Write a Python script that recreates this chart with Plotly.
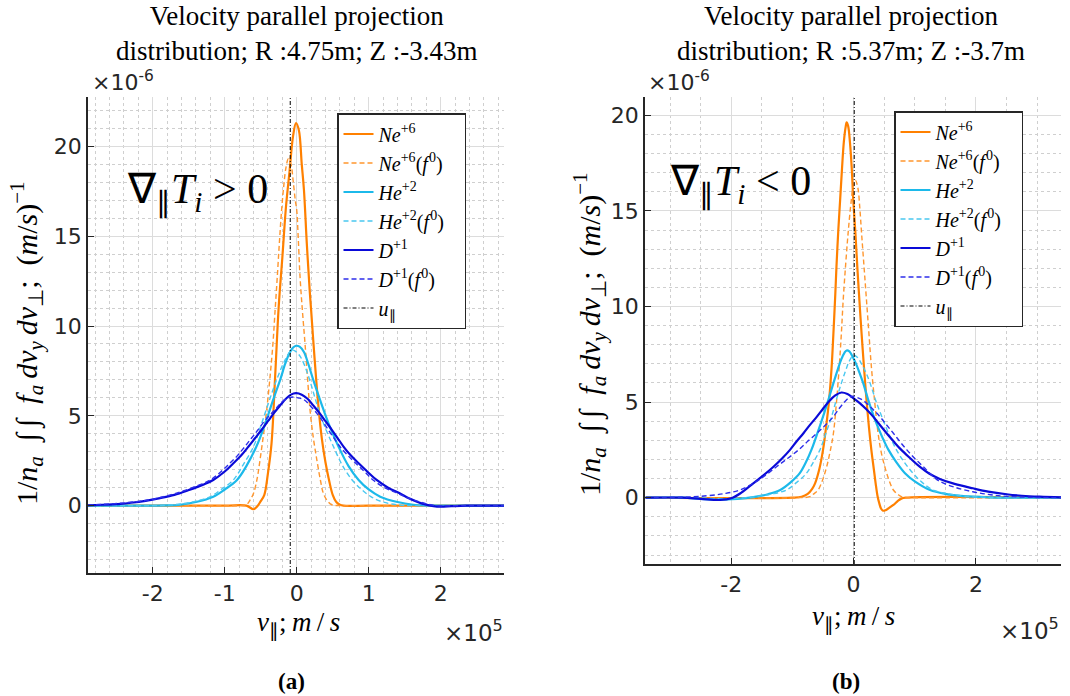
import numpy as np
import plotly.graph_objects as go

# ---------------- Panel (a) data  (x in 1e5 m/s, y in 1e-6) ----------------
NE_A_X = [-2.9, -1.0, -0.7, -0.60, -0.55, -0.50, -0.45, -0.40, -0.35, -0.30, -0.25, -0.20, -0.15, -0.10,
          -0.05, -0.01, 0.03, 0.07, 0.10, 0.14, 0.18, 0.20, 0.25, 0.30, 0.35, 0.40, 0.45, 0.50, 0.55,
          0.60, 0.65, 1.0, 2.9]
NE_A_Y = [0, 0, 0, -0.2, -0.05, 0.25, 0.6, 1.8, 3.47, 7.18, 11.1, 13.8, 16.6, 18.6,
          20.6, 21.3, 20.9, 19.0, 17.6, 14.6, 12.0, 10.9, 8.1, 5.6, 3.7, 2.4, 1.4, 0.6, 0.2,
          0.05, 0, 0, 0]
NE0_A_X = [-2.9, -1.0, -0.80, -0.70, -0.65, -0.60, -0.55, -0.51, -0.45, -0.417, -0.37, -0.33, -0.30,
           -0.27, -0.24, -0.21, -0.18, -0.15, -0.117, -0.08, -0.05, -0.02, 0.0, 0.02, 0.046, 0.08,
           0.115, 0.15, 0.185, 0.23, 0.28, 0.33, 0.37, 0.43, 0.49, 0.6, 1.0, 2.9]
NE0_A_Y = [0, 0, 0, 0.05, 0.3, 0.69, 1.5, 2.54, 4.3, 5.33, 7.2, 9.04, 10.9,
           12.75, 14.7, 16.46, 17.8, 18.8, 19.3, 19.0, 18.1, 17.0, 16.46, 15.0, 12.75, 10.8,
           9.04, 7.1, 5.33, 3.8, 2.54, 1.4, 0.69, 0.25, 0.05, 0, 0, 0]
HE_A_X = [-2.9, -2.0, -1.8, -1.62, -1.4, -1.16, -1.0, -0.83, -0.7, -0.56, -0.47, -0.39, -0.31, -0.23,
          -0.16, -0.1, -0.05, -0.01, 0.04, 0.1, 0.16, 0.23, 0.31, 0.39, 0.48, 0.58, 0.72, 0.86, 1.0,
          1.16, 1.4, 1.62, 1.8, 2.0, 2.9]
HE_A_Y = [0, 0, 0.01, 0.05, 0.2, 0.5, 0.9, 1.43, 2.2, 3.29, 4.2, 5.14, 6.1, 7.0,
          7.9, 8.5, 8.8, 8.9, 8.85, 8.55, 7.9, 7.0, 6.05, 5.14, 4.2, 3.29, 2.2, 1.43, 0.9,
          0.5, 0.2, 0.05, 0.01, 0, 0]
HE0_A_X = [-2.9, -2.0, -1.8, -1.6, -1.4, -1.2, -1.05, -0.88, -0.74, -0.6, -0.52, -0.44, -0.36, -0.28,
           -0.21, -0.15, -0.1, -0.07, -0.02, 0.05, 0.11, 0.18, 0.25, 0.32, 0.41, 0.51, 0.64, 0.77,
           0.9, 1.03, 1.2, 1.44, 1.7, 2.0, 2.9]
HE0_A_Y = [0, 0, 0.03, 0.1, 0.25, 0.5, 0.9, 1.43, 2.3, 3.29, 4.2, 5.14, 6.1, 7.0,
           7.7, 8.2, 8.55, 8.67, 8.6, 8.3, 7.8, 7.0, 6.05, 5.14, 4.2, 3.29, 2.2, 1.43,
           0.9, 0.5, 0.2, 0.03, 0, 0, 0]
D_A_X = [-2.9, -2.7, -2.5, -2.3, -2.1, -1.9, -1.7, -1.5, -1.3, -1.16, -1.0, -0.88, -0.77, -0.67,
         -0.58, -0.49, -0.4, -0.32, -0.23, -0.15, -0.08, -0.01, 0.07, 0.15, 0.23, 0.32, 0.4, 0.49,
         0.57, 0.65, 0.75, 0.86, 0.98, 1.11, 1.27, 1.43, 1.55, 1.67, 1.78, 1.9, 2.0, 2.15, 2.35, 2.9]
D_A_Y = [0.02, 0.05, 0.08, 0.16, 0.27, 0.42, 0.6, 0.87, 1.17, 1.43, 1.9, 2.36, 2.8, 3.29,
         3.75, 4.21, 4.7, 5.14, 5.58, 5.95, 6.18, 6.26, 6.18, 5.95, 5.58, 5.14, 4.7, 4.21,
         3.75, 3.29, 2.8, 2.36, 1.9, 1.43, 1.0, 0.69, 0.42, 0.22, 0.07, -0.03, -0.06, -0.03, 0, 0]
D0_A_X = [-2.9, -2.7, -2.5, -2.23, -2.0, -1.8, -1.67, -1.45, -1.2, -1.05, -0.93, -0.82, -0.72, -0.63,
          -0.54, -0.45, -0.35, -0.27, -0.2, -0.12, -0.05, 0.02, 0.1, 0.19, 0.28, 0.36, 0.44, 0.52,
          0.60, 0.71, 0.82, 0.94, 1.06, 1.22, 1.40, 1.55, 1.70, 1.82, 1.95, 2.3, 2.9]
D0_A_Y = [0.03, 0.07, 0.12, 0.22, 0.35, 0.55, 0.69, 1.0, 1.43, 1.9, 2.36, 2.8, 3.29, 3.75,
          4.21, 4.7, 5.14, 5.5, 5.8, 5.98, 6.05, 6.0, 5.9, 5.55, 5.14, 4.7, 4.21, 3.75,
          3.29, 2.8, 2.36, 1.9, 1.43, 1.0, 0.69, 0.42, 0.22, 0.08, 0, 0, 0]
U_A = -0.09

# ---------------- Panel (b) data ----------------
NE_B_X = [-3.4, -1.0, -0.85, -0.75, -0.68, -0.63, -0.56, -0.50, -0.45, -0.40, -0.36, -0.33, -0.30,
          -0.28, -0.25, -0.22, -0.19, -0.16, -0.13, -0.114, -0.09, -0.06, -0.03, -0.006, 0.03, 0.06,
          0.095, 0.13, 0.17, 0.21, 0.25, 0.29, 0.33, 0.36, 0.39, 0.42, 0.45, 0.48, 0.52, 0.56, 0.65,
          0.72, 0.78, 0.85, 3.4]
NE_B_Y = [0, 0, 0.05, 0.2, 0.45, 0.75, 1.5, 2.5, 3.7, 5.12, 6.8, 8.6, 10.6,
          12.1, 14.0, 15.59, 17.2, 18.6, 19.4, 19.63, 19.45, 18.6, 17.2, 15.59, 13.8, 12.1,
          10.3, 8.6, 6.8, 5.12, 3.7, 2.5, 1.5, 0.75, 0.1, -0.3, -0.58, -0.68, -0.66, -0.58, -0.38,
          -0.18, -0.05, 0, 0]
NE0_B_X = [-3.4, -0.9, -0.72, -0.65, -0.58, -0.51, -0.44, -0.385, -0.33, -0.28, -0.235, -0.2, -0.17,
           -0.13, -0.09, -0.05, -0.01, 0.03, 0.07, 0.10, 0.13, 0.17, 0.21, 0.25, 0.29, 0.345, 0.40,
           0.45, 0.51, 0.58, 0.65, 0.73, 0.81, 1.0, 3.4]
NE0_B_Y = [0, 0, 0.05, 0.2, 0.4, 0.9, 1.62, 2.4, 3.37, 5.0, 6.86, 8.6, 10.35,
           12.2, 13.84, 15.2, 16.2, 16.6, 16.2, 15.2, 13.84, 12.1, 10.35, 8.6, 6.86, 5.0, 3.37,
           2.4, 1.62, 0.9, 0.4, 0.15, 0.02, 0, 0]
HE_B_X = [-3.4, -2.8, -2.5, -2.2, -1.9, -1.64, -1.4, -1.2, -1.03, -0.88, -0.78, -0.69, -0.6, -0.50,
          -0.41, -0.33, -0.26, -0.2, -0.15, -0.114, -0.07, -0.02, 0.04, 0.1, 0.157, 0.24, 0.33, 0.45,
          0.57, 0.7, 0.84, 1.0, 1.25, 1.5, 1.8, 2.2, 2.6, 3.4]
HE_B_Y = [0, 0, -0.06, -0.1, -0.06, 0.03, 0.18, 0.4, 0.8, 1.28, 1.85, 2.5, 3.3, 4.24,
          5.15, 5.99, 6.7, 7.25, 7.58, 7.70, 7.65, 7.4, 7.0, 6.5, 5.99, 5.1, 4.24, 3.3,
          2.5, 1.85, 1.28, 0.85, 0.4, 0.2, 0.08, 0.02, 0, 0]
HE0_B_X = [-3.4, -2.6, -2.2, -1.9, -1.6, -1.35, -1.1, -0.93, -0.77, -0.66, -0.55, -0.46, -0.36, -0.28,
           -0.2, -0.13, -0.07, 0.0, 0.06, 0.13, 0.2, 0.27, 0.36, 0.46, 0.58, 0.70, 0.83, 0.97, 1.12,
           1.3, 1.55, 1.8, 2.2, 2.6, 3.4]
HE0_B_Y = [0, 0, -0.06, -0.03, 0.05, 0.18, 0.4, 0.8, 1.28, 1.85, 2.5, 3.3, 4.24, 5.15,
           5.99, 6.65, 7.15, 7.45, 7.35, 7.0, 6.55, 5.99, 5.1, 4.24, 3.3, 2.5, 1.85, 1.28, 0.8,
           0.4, 0.2, 0.08, 0.02, 0, 0]
D_B_X = [-3.4, -2.8, -2.5, -2.18, -2.0, -1.84, -1.64, -1.47, -1.31, -1.17, -1.04, -0.93, -0.82, -0.71,
         -0.6, -0.5, -0.4, -0.3, -0.2, -0.1, 0.0, 0.1, 0.2, 0.32, 0.43, 0.54, 0.66, 0.78, 0.93, 1.08,
         1.24, 1.41, 1.65, 1.95, 2.2, 2.5, 2.75, 3.04, 3.4]
D_B_Y = [0, 0, -0.06, -0.12, -0.03, 0.25, 0.75, 1.18, 1.62, 2.05, 2.5, 2.95, 3.37, 3.82,
         4.24, 4.65, 5.05, 5.35, 5.5, 5.42, 5.2, 4.95, 4.65, 4.24, 3.8, 3.37, 2.92, 2.5, 2.05, 1.62,
         1.25, 0.98, 0.72, 0.49, 0.32, 0.18, 0.1, 0.05, 0.02]
D0_B_X = [-3.4, -2.8, -2.4, -2.1, -1.86, -1.64, -1.45, -1.26, -1.08, -0.9, -0.75, -0.6, -0.46, -0.33,
          -0.24, -0.15, -0.08, -0.03, 0.05, 0.15, 0.29, 0.43, 0.54, 0.65, 0.76, 0.87, 1.0, 1.14, 1.27,
          1.41, 1.65, 1.95, 2.2, 2.5, 3.0, 3.4]
D0_B_Y = [0, 0.02, 0.1, 0.22, 0.4, 0.75, 1.15, 1.62, 2.05, 2.5, 2.95, 3.37, 3.8, 4.24,
          4.65, 5.0, 5.22, 5.3, 5.25, 5.1, 4.7, 4.24, 3.8, 3.37, 2.92, 2.5, 2.05, 1.62, 1.2,
          0.85, 0.55, 0.31, 0.17, 0.07, 0.01, 0]
U_B = 0.01

RANGE_A_X = [-2.9, 2.88]
RANGE_A_Y = [-3.75, 22.75]
RANGE_B_X = [-3.41, 3.39]
RANGE_B_Y = [-3.47, 20.96]

F0 = "(<i>f</i><sup>\u200a0</sup>)\u2002\u2009"
NAMES = ["<i>Ne</i><sup>+6</sup>", "<i>Ne</i><sup>+6</sup>" + F0,
         "<i>He</i><sup>+2</sup>", "<i>He</i><sup>+2</sup>" + F0,
         "<i>D</i><sup>+1</sup>", "<i>D</i><sup>+1</sup>" + F0,
         "<i>u</i><sub>∥</sub>"]

C_NE, C_NE0 = "#FF8000", "#FF962E"
C_HE, C_HE0 = "#1CB9EA", "#4AC8F0"
C_D, C_D0 = "#0A0AD8", "#2E2EEA"

W, H = 1070, 696
SERIF = "Liberation Serif"
SANS = "DejaVu Sans"

fig = go.Figure()


def add(xs, ys, name, color, dash, width, xa, ya, leg):
    fig.add_trace(go.Scatter(
        x=xs, y=ys, name=name, mode="lines",
        line=dict(color=color, dash=dash, width=width, shape="spline", smoothing=1.0),
        xaxis=xa, yaxis=ya, legend=leg, hoverinfo="skip"))


panels = [
    ("x", "y", "legend", [(NE_A_X, NE_A_Y), (NE0_A_X, NE0_A_Y), (HE_A_X, HE_A_Y),
                          (HE0_A_X, HE0_A_Y), (D_A_X, D_A_Y), (D0_A_X, D0_A_Y)], U_A, RANGE_A_Y),
    ("x2", "y2", "legend2", [(NE_B_X, NE_B_Y), (NE0_B_X, NE0_B_Y), (HE_B_X, HE_B_Y),
                             (HE0_B_X, HE0_B_Y), (D_B_X, D_B_Y), (D0_B_X, D0_B_Y)], U_B, RANGE_B_Y),
]
styles = [(C_NE, "solid", 2.2), (C_NE0, "5px,3px", 1.4), (C_HE, "solid", 2.2),
          (C_HE0, "5px,3px", 1.4), (C_D, "solid", 2.2), (C_D0, "5px,3px", 1.4)]

for xa, ya, leg, series, u, yr in panels:
    for (xs, ys), name, (col, dash, w) in zip(series, NAMES[:6], styles):
        add(xs, ys, name, col, dash, w, xa, ya, leg)
    fig.add_trace(go.Scatter(x=[u, u], y=yr, name=NAMES[6], mode="lines",
                             line=dict(color="black", dash="4px,2px,1px,2px", width=1),
                             xaxis=xa, yaxis=ya, legend=leg, hoverinfo="skip"))

grid_major = "#DCDCDC"
grid_minor = "#CFCFCF"
axis_col = "#262626"


def xaxis(domain, rng, ticks, minor_step, anchor):
    return dict(domain=domain, range=rng, anchor=anchor,
                tickmode="array", tickvals=ticks, ticktext=[str(t) for t in ticks],
                ticks="inside", ticklen=6, tickcolor=axis_col, tickwidth=1,
                showline=True, linecolor=axis_col, linewidth=1.5, mirror=False,
                showgrid=True, gridcolor=grid_major, gridwidth=1, zeroline=False,
                tickfont=dict(family=SANS, size=22, color=axis_col),
                minor=dict(tickmode="array",
                           tickvals=list(np.round(np.arange(-4, 4.001, minor_step), 3)),
                           showgrid=True, gridcolor=grid_minor, griddash="dot", gridwidth=1,
                           ticks=""))


def yaxis(domain, rng, anchor):
    ticks = [0, 5, 10, 15, 20]
    return dict(domain=domain, range=rng, anchor=anchor,
                tickmode="array", tickvals=ticks, ticktext=[str(t) for t in ticks],
                ticks="inside", ticklen=6, tickcolor=axis_col, tickwidth=1,
                showline=True, linecolor=axis_col, linewidth=1.5, mirror=False,
                showgrid=True, gridcolor=grid_major, gridwidth=1, zeroline=False,
                tickfont=dict(family=SANS, size=22, color=axis_col),
                minor=dict(tickmode="array", tickvals=list(range(-5, 25)),
                           showgrid=True, gridcolor=grid_minor, griddash="dot", gridwidth=1,
                           ticks=""))


def leg(x0, y0):
    return dict(x=x0 / W, y=1 - y0 / H, xanchor="left", yanchor="top", bgcolor="white",
                bordercolor=axis_col, borderwidth=1.5,
                font=dict(family=SERIF, size=20, color="black"), tracegroupgap=0, itemwidth=30)


ann = []


def text(x, y, s, size, family=SERIF, angle=0, xanchor="center", yanchor="middle", color="black"):
    ann.append(dict(x=x / W, y=1 - y / H, xref="paper", yref="paper", text=s, showarrow=False,
                    font=dict(family=family, size=size, color=color), textangle=angle,
                    xanchor=xanchor, yanchor=yanchor))


# titles
text(297, 34, "Velocity parallel projection<br>distribution; R :4.75m; Z :-3.43m", 27)
text(851, 34, "Velocity parallel projection<br>distribution; R :5.37m; Z :-3.7m", 27)
# exponent labels
text(90, 81, "×10<sup>-6</sup>", 22, SANS, xanchor="left", color=axis_col)
text(646, 81, "×10<sup>-6</sup>", 22, SANS, xanchor="left", color=axis_col)
text(505, 631, "×10<sup>5</sup>", 23, SANS, xanchor="right", color=axis_col)
text(1061, 629, "×10<sup>5</sup>", 23, SANS, xanchor="right", color=axis_col)
# axis titles
xtitle = "<i>v</i><sub>∥</sub>;\u2009<i>m</i>\u2009/\u2009<i>s</i>"
text(298, 624, xtitle, 27)
text(853, 618, xtitle, 27)
ytitle = ("1/<i>n<sub>a</sub></i>\u2002∫\u2009∫\u2002<i>f<sub>a</sub></i>\u2009<i>dv<sub>y</sub></i>"
          "\u2009<i>dv</i><sub>⊥</sub>;\u2002(<i>m</i>/<i>s</i>)<sup>−1</sup>")
text(26, 343, ytitle, 30, angle=-90)
text(590, 334, ytitle, 30, angle=-90)
# gradient annotations
text(197, 192, "∇<sub>∥</sub><i>T<sub>i</sub></i> > 0", 42)
text(740, 185, "∇<sub>∥</sub><i>T<sub>i</sub></i> < 0", 42)
# sub captions
text(291, 681, "<b>(a)</b>", 23)
text(846, 681, "<b>(b)</b>", 23)

fig.update_layout(
    width=W, height=H, margin=dict(l=0, r=0, t=0, b=0),
    paper_bgcolor="white", plot_bgcolor="white", showlegend=True,
    xaxis=xaxis([88 / W, 504 / W], RANGE_A_X, [-2, -1, 0, 1, 2], 0.2, "y"),
    yaxis=yaxis([1 - 573 / H, 1 - 97 / H], RANGE_A_Y, "x"),
    xaxis2=xaxis([645 / W, 1061 / W], RANGE_B_X, [-2, 0, 2], 0.5, "y2"),
    yaxis2=yaxis([1 - 564 / H, 1 - 97 / H], RANGE_B_Y, "x2"),
    legend=leg(337, 113), legend2=leg(894, 111),
    annotations=ann,
)

fig.write_html("out.html")
